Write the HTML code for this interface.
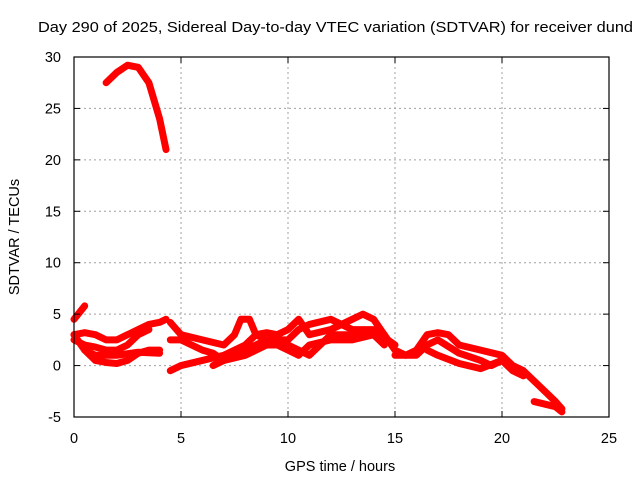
<!DOCTYPE html>
<html><head><meta charset="utf-8"><style>
body{margin:0;background:#fff;}
svg{display:block;font-family:"Liberation Sans",sans-serif;}
</style></head><body>
<svg id="chart" width="640" height="480" viewBox="0 0 640 480">
<rect width="640" height="480" fill="#fff"/>
<text x="38" y="32" font-size="15" textLength="595" lengthAdjust="spacingAndGlyphs" fill="#000">Day 290 of 2025, Sidereal Day-to-day VTEC variation (SDTVAR) for receiver dund</text>
<g id="grid"></g>
<g id="series"></g>
<g id="axes"></g>
<text x="340" y="471" font-size="14.5" text-anchor="middle">GPS time / hours</text>
<text transform="translate(19,237) rotate(-90)" font-size="14.5" text-anchor="middle">SDTVAR / TECUs</text>
</svg>
<script>
const xTicks=[0,5,10,15,20,25];
const yTicks=[-5,0,5,10,15,20,25,30];
const s1=[[1.5,27.5],[2,28.5],[2.5,29.2],[3,29],[3.5,27.5],[4,24],[4.3,21]];
const s2=[[0,4.5],[0.5,5.8]];
const s3=[[0,3],[0.5,3.2],[1,3],[1.5,2.5],[2,2.5],[2.5,3],[3,3.5],[3.5,4],[4,4.2],[4.3,4.5]];
const s4=[[0,2.5],[0.5,2],[1,1.8],[1.5,1.5],[2,1.5],[2.5,2],[3,3],[3.5,3.5]];
const s5=[[0,3],[0.5,1.5],[1,0.5],[1.5,0.3],[2,0.2],[2.5,0.5],[3,1.2],[3.5,1.5],[4,1.5]];
const s6=[[0.5,1.5],[1,1],[2,1],[3,1.3],[4,1.2]];
const s7=[[4.5,4.2],[5,3],[6,2.5],[7,2],[7.5,3],[7.8,4.5],[8.2,4.5],[8.5,3],[9,2.5],[10,2.5],[10.5,3.5],[11,4],[12,4.5],[12.5,4],[13,3.5],[14,3.5],[15,2]];
const s8=[[4.5,2.5],[5,2.5],[6,1.5],[6.5,1.2],[7,0.5],[8,1],[9,2],[10,2],[11,1],[11.5,2],[12,3],[13,3],[14,3],[14.5,2]];
const s9=[[4.5,-0.5],[5,0],[6,0.5],[7,1],[8,2],[8.5,3],[9,3.2],[9.5,3],[10,3.5],[10.5,4.5],[11,3],[12,3.5],[13,4.5],[13.5,5],[14,4.5],[14.5,3]];
const s10=[[6.5,0],[7,0.5],[8,1.5],[9,2.5],[10,1.5],[10.5,1],[11,2],[12,2.5],[13,2.5],[14,3]];
const s11=[[14.5,3],[15,1.5],[15.5,1],[16,1.5],[16.5,3],[17,3.2],[17.5,3],[18,2],[19,1.5],[20,1],[20.5,0],[21,-0.5],[21.5,-1.5],[22,-2.5],[22.5,-3.5],[22.8,-4.2]];
const s12=[[15,1],[16,1],[16.5,2],[17,2.5],[18,1.2],[19,0.5],[19.5,0],[20,0.5],[20.5,-0.5],[21,-1]];
const s13=[[16.5,1.5],[17,1],[18,0.2],[19,-0.3],[20,0.5]];
const s14=[[21.5,-3.5],[22.5,-4],[22.8,-4.5]];
const allSeries=[s1,s2,s3,s4,s5,s6,s7,s8,s9,s10,s11,s12,s13,s14];
const L=74,R=609,T=57,B=417,xMin=0,xMax=25,yMin=-5,yMax=30;
const X=v=>L+(v-xMin)/(xMax-xMin)*(R-L);
const Y=v=>B-(v-yMin)/(yMax-yMin)*(B-T);
const NS="http://www.w3.org/2000/svg";
function mk(tag,attrs,parent){const e=document.createElementNS(NS,tag);for(const k in attrs)e.setAttribute(k,attrs[k]);parent.appendChild(e);return e;}
const grid=document.getElementById('grid'),axes=document.getElementById('axes'),ser=document.getElementById('series');
xTicks.forEach(t=>{
  if(t>xMin&&t<xMax){const g=mk('line',{x1:X(t),x2:X(t),y1:T,y2:B,stroke:'#a0a0a0','stroke-dasharray':'2,3'},grid);
  
  }
  mk('line',{x1:X(t),x2:X(t),y1:B,y2:B-6,stroke:'#000'},axes);
  mk('line',{x1:X(t),x2:X(t),y1:T,y2:T+6,stroke:'#000'},axes);
  const tx=mk('text',{x:X(t),y:B+26,'font-size':14.5,'text-anchor':'middle'},axes);
  tx.textContent=t;
  
  
});
yTicks.forEach(t=>{
  if(t>yMin&&t<yMax){const g=mk('line',{x1:L,x2:R,y1:Y(t),y2:Y(t),stroke:'#a0a0a0','stroke-dasharray':'2,3'},grid);
  
  }
  mk('line',{x1:L,x2:L+6,y1:Y(t),y2:Y(t),stroke:'#000'},axes);
  mk('line',{x1:R,x2:R-6,y1:Y(t),y2:Y(t),stroke:'#000'},axes);
  const tx=mk('text',{x:L-13,y:Y(t)+5,'font-size':14.5,'text-anchor':'end'},axes);
  tx.textContent=t;
  
  
});
const fr=mk('rect',{x:L,y:T,width:R-L,height:B-T,fill:'none',stroke:'#000','stroke-width':1.2},axes);


allSeries.forEach((s,i)=>{
  const p=mk('polyline',{points:s.map(d=>X(d[0])+','+Y(d[1])).join(' '),fill:'none',stroke:'#ff0000','stroke-width':7,'stroke-linejoin':'round','stroke-linecap':'round'},ser);
  
  
});
</script>
</body></html>
